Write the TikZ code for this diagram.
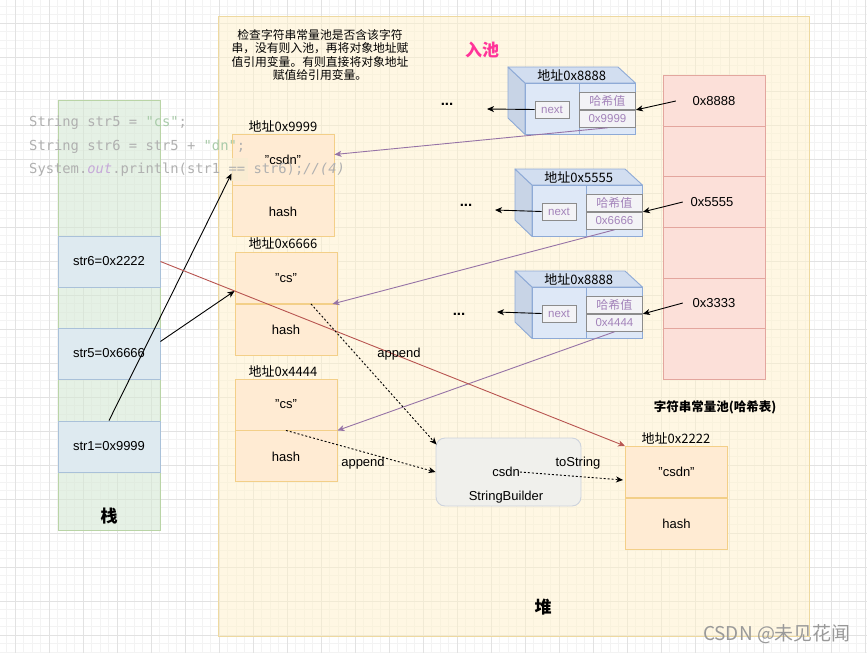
\documentclass[tikz,border=0pt]{standalone}
\usepackage{fontspec}
\setmainfont{Liberation Sans}
\newfontfamily\cjk{Noto Sans CJK SC}
\newfontfamily\codefont{DejaVu Sans Mono}
\usetikzlibrary{calc,arrows.meta}
\definecolor{gridmaj}{HTML}{E2E2E2}
\definecolor{gridmin}{HTML}{F3F3F3}
\definecolor{heapfill}{HTML}{FFF2CC}
\definecolor{heapline}{HTML}{EED9A0}
\definecolor{stackfill}{HTML}{D5E8D4}
\definecolor{stackline}{HTML}{B9D4A6}
\definecolor{cellfill}{HTML}{DEEAF0}
\definecolor{cellline}{HTML}{A9C1D9}
\definecolor{objfill}{HTML}{FFEBD3}
\definecolor{objline}{HTML}{F3CF88}
\definecolor{pinkfill}{HTML}{FCE0D9}
\definecolor{pinkline}{HTML}{E3A69E}
\definecolor{cubefront}{HTML}{DEE8F7}
\definecolor{cubetop}{HTML}{D2DEF0}
\definecolor{cubeside}{HTML}{C8D4E6}
\definecolor{cubeline}{HTML}{8EAAD6}
\definecolor{hcfill}{HTML}{F3F3F6}
\definecolor{hcline}{HTML}{8C8C8C}
\definecolor{hctext}{HTML}{A383BA}
\definecolor{purp}{HTML}{9673A6}
\definecolor{redl}{HTML}{B85450}
\definecolor{sbfill}{HTML}{F0F0EC}
\definecolor{sbline}{HTML}{CDD3DD}
\definecolor{pinktext}{HTML}{FF3399}
\definecolor{codegray}{HTML}{B0B0B0}
\definecolor{codegreen}{HTML}{A9CBA9}
\definecolor{codepurp}{HTML}{C6A9D9}
\definecolor{codehl}{HTML}{F8EDD2}
\tikzset{
  txt/.style={inner sep=0pt, font=\fontsize{13}{15}\selectfont},
  cjktxt/.style={inner sep=0pt, font=\cjk\fontsize{13}{15}\selectfont},
  stackcell/.style={draw=cellline, fill=cellfill, line width=0.9pt, minimum width=102pt, minimum height=51pt, inner sep=0pt, font=\fontsize{13}{15}\selectfont},
  objcell/.style={draw=objline, fill=objfill, line width=0.9pt, minimum width=102pt, minimum height=51pt, inner sep=0pt, font=\fontsize{13}{15}\selectfont},
  pinkcell/.style={draw=pinkline, fill=pinkfill, line width=0.9pt, minimum width=102pt, minimum height=50.67pt, inner sep=0pt},
  hcell/.style={draw=hcline, fill=hcfill, line width=0.9pt, inner sep=0pt, text=hctext},
  arr/.style={-{Stealth[length=7pt,width=6pt,inset=2pt]}, line width=0.9pt},
  dotarr/.style={-{Stealth[length=7pt,width=6pt,inset=2pt]}, line width=0.9pt, dash pattern=on 2pt off 2pt},
  codeline/.style={anchor=west, inner sep=0pt, text=codegray, font=\codefont\fontsize{13.8}{16}\selectfont},
}
\newcommand\mycube[5]{%
  \node[fill=cubefront, minimum width=110pt, minimum height=51pt, inner sep=0pt, anchor=north west] (#1) at (#2,#3) {};
  \filldraw[fill=cubeside, draw=cubeline, line width=0.9pt, line join=round] (#1.north west) -- ++(-17,-16) -- ++(0,51) -- (#1.south west) -- cycle;
  \filldraw[fill=cubetop, draw=cubeline, line width=0.9pt, line join=round] (#1.north west) -- ++(-17,-16) -- ++(110,0) -- (#1.north east) -- cycle;
  \draw[cubeline, line width=0.9pt] (#1.north west) rectangle (#1.south east);
  \draw[cubeline, line width=0.9pt] ($(#1.north west)+(54,0)$) -- ($(#1.south west)+(54,0)$);
  \node[hcell, minimum width=34pt, minimum height=17pt, font=\fontsize{11.5}{13}\selectfont] (#1next) at ($(#1.north west)+(27,26.5)$) {next};
  \node[hcell, minimum width=56pt, minimum height=17pt, anchor=north west, font=\cjk\fontsize{12}{13}\selectfont] (#1hv) at ($(#1.north west)+(54,9)$) {哈希值};
  \node[hcell, minimum width=56pt, minimum height=17pt, anchor=north west, font=\fontsize{11.5}{13}\selectfont] (#1hx) at (#1hv.south west) {#5};
  \node[cjktxt] (#1lab) at ($(#1.north)+(-8.5,-8)$) {#4};
}
\begin{document}
\begin{tikzpicture}[x=1pt,y=-1pt]
\useasboundingbox (0,0) rectangle (867,653);
\fill[white] (0,0) rectangle (867,653);
% grid
\foreach \i in {0,...,104} {\draw[gridmin, line width=0.6pt] ({-19+8.5*\i},0) -- ++(0,653);}
\foreach \i in {0,...,79} {\draw[gridmin, line width=0.6pt] (0,{-11+8.5*\i}) -- ++(867,0);}
\foreach \i in {0,...,26} {\draw[gridmaj, line width=0.8pt] ({15+34*\i},0) -- ++(0,653);}
\foreach \i in {0,...,19} {\draw[gridmaj, line width=0.8pt] (0,{23+34*\i}) -- ++(867,0);}

% heap and stack
\node[draw=heapline, fill=heapfill, fill opacity=0.55, draw opacity=1, line width=0.9pt, minimum width=591pt, minimum height=620pt, anchor=north west, inner sep=0pt] (heap) at (218,16) {};
\node[draw=stackline, fill=stackfill, fill opacity=0.6, line width=0.9pt, minimum width=102pt, minimum height=430pt, anchor=north west, inner sep=0pt] (stack) at (58,100) {};

% stack cells
\node[stackcell] (str6) at (109,261.5) {str6=0x2222};
\node[stackcell] (str5) at (109,353.5) {str5=0x6666};
\node[stackcell] (str1) at (109,446.5) {str1=0x9999};
\node[font=\cjk\bfseries\fontsize{17}{19}\selectfont, inner sep=0pt] (zhan) at (109,516) {栈};

% note
\node[align=center, inner sep=0pt, font=\cjk\fontsize{11.8}{13.6}\selectfont] (note) at (320,55) {检查字符串常量池是否含该字符\\串，没有则入池，再将对象地址赋\\值引用变量。有则直接将对象地址\\赋值给引用变量。};
\node[font=\cjk\bfseries\fontsize{17}{19}\selectfont, text=pinktext, inner sep=0pt] (ruchi) at (482,50) {入池};

% heap objects
\node[objcell] (o9top) at (283,159.5) {"csdn"};
\node[objcell, anchor=north] (o9bot) at (o9top.south) {hash};
\node[cjktxt] (o9lab) at (283,126) {地址0x9999};
\node[objcell] (o6top) at (286,278) {"cs"};
\node[objcell, anchor=north] (o6bot) at (o6top.south) {hash};
\node[cjktxt] (o6lab) at (283,243) {地址0x6666};
\node[objcell] (o4top) at (286,404.5) {"cs"};
\node[objcell, anchor=north] (o4bot) at (o4top.south) {hash};
\node[cjktxt] (o4lab) at (283,371) {地址0x4444};
\node[objcell] (o2top) at (676.5,472) {"csdn"};
\node[objcell, anchor=north] (o2bot) at (o2top.south) {hash};
\node[cjktxt] (o2lab) at (676,438) {地址0x2222};

% StringBuilder
\node[draw=sbline, fill=sbfill, rounded corners=9pt, line width=0.9pt, minimum width=145pt, minimum height=68pt, inner sep=0pt] (sb) at (508.5,472) {};
\node[txt] (sbcsdn) at (506,472) {csdn};
\node[txt] (sbname) at (506,497) {StringBuilder};

% pink hash table
\foreach \r in {0,...,5} {\node[pinkcell, anchor=north west] (p\r) at (663,{75+50.67*\r}) {};}
\node[txt, minimum width=76pt] (t8888) at (714,101) {0x8888};
\node[txt, minimum width=58pt] (t5555) at (712,202) {0x5555};
\node[txt, minimum width=62pt] (t3333) at (714,303) {0x3333};
\node[font=\cjk\bfseries\fontsize{12.5}{14}\selectfont, inner sep=0pt] (pooltitle) at (715,407) {字符串常量池(哈希表)};

% cubes
\mycube{ca}{525}{83}{地址0x8888}{0x9999}
\mycube{cb}{532}{185}{地址0x5555}{0x6666}
\mycube{cc}{532}{287}{地址0x8888}{0x4444}
\node[font=\bfseries\fontsize{15}{16}\selectfont, inner sep=0pt] (dotsa) at (447,104) {...};
\node[font=\bfseries\fontsize{15}{16}\selectfont, inner sep=0pt] (dotsb) at (466,205) {...};
\node[font=\bfseries\fontsize{15}{16}\selectfont, inner sep=0pt] (dotsc) at (459,314) {...};
\coordinate (ea) at (487,109);
\coordinate (eb) at (495,210);
\coordinate (ec) at (497,312);
\draw[arr] (canext.west) -- (ea);
\draw[arr] (cbnext.west) -- (eb);
\draw[arr] (ccnext.west) -- (ec);
\draw[arr] (t8888.west) -- (cahv.south east);
\draw[arr] (t5555.west) -- (cbhv.south east);
\draw[arr] (t3333.west) -- (cchv.south east);

% purple links
\draw[arr, purp] (cahx.south) -- ($(o9top.east)+(0,-5)$);
\draw[arr, purp] (cbhx.south) -- ($(o6top.south east)+(-5,0)$);
\draw[arr, purp] (cchx.south) -- (o4top.south east);

% code overlay (on top, as a screenshot)
\fill[codehl, opacity=0.8] (232,158) rectangle (248,181);
\node[codeline] (code1) at (29,123) {String str5 = \textcolor{codegreen}{"cs"};};
\node[codeline] (code2) at (29,147) {String str6 = str5 + \textcolor{codegreen}{"dn"};};
\node[codeline] (code3) at (29,170) {System.\textcolor{codepurp}{\itshape out}.println(str1 == str6);{\itshape //(4)}};

% stack links
\draw[arr] (str1.north) -- ($(o9top.west)+(0,14)$);
\draw[arr] ($(str5.east)+(0,-12)$) -- ($(o6top.west)+(0,13)$);
\draw[arr, redl] (str6.east) -- (o2top.north west);

% dotted appends
\draw[dotarr] ($(o6top.south)+(25,0)$) -- ($(sb.north west)+(1,7)$);
\draw[dotarr] (o4top.south) -- (sb.west);
\draw[dotarr] (sbcsdn.east) -- ($(o2top.west)+(-2,8)$);
\node[txt] (ap1) at (399,354) {append};
\node[txt] (ap2) at (363,463) {append};
\node[txt] (tostr) at (578,463) {toString};

\node[font=\cjk\bfseries\fontsize{17}{19}\selectfont, inner sep=0pt] (dui) at (543,607) {堆};
\node[font=\cjk\fontsize{19}{21}\selectfont, text=black!40, inner sep=0pt] (wm) at (777,634) {CSDN @未见花闻};
\end{tikzpicture}
\end{document}
